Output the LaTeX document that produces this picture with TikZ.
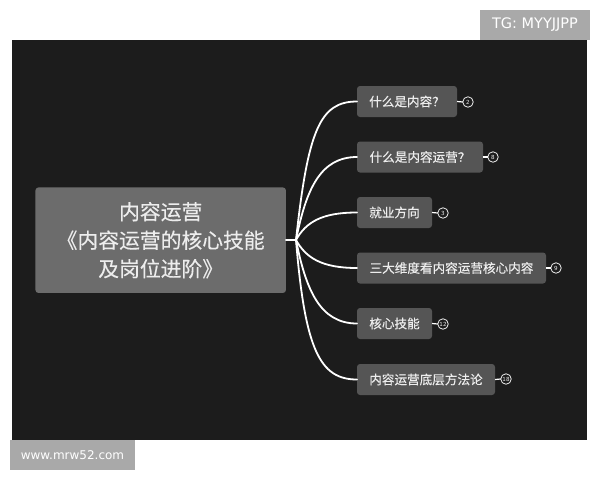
\documentclass[tikz,border=0pt]{standalone}
\usepackage{fontspec}
\setmainfont[FakeBold=0.3]{Noto Sans CJK SC}
\newfontfamily\latinfont{DejaVu Sans}
\definecolor{bgdark}{HTML}{1C1C1C}
\definecolor{rootfill}{HTML}{6C6C6C}
\definecolor{leaffill}{HTML}{555555}
\definecolor{tagfill}{HTML}{A9A9A9}
\definecolor{softwhite}{HTML}{EDEDED}
\tikzset{
  rootbox/.style={fill=rootfill,rounded corners=3pt,text=softwhite,align=center,inner sep=0pt,outer sep=0pt,
    minimum width=250.5pt,minimum height=105.5pt,font=\fontsize{20.8}{28.5}\selectfont},
  leafbox/.style={fill=leaffill,rounded corners=3pt,text=softwhite,anchor=west,inner sep=0pt,outer sep=0pt,
    minimum height=31pt,font=\fontsize{12.6}{15}\selectfont},
  badge/.style={circle,draw=softwhite,line width=0.8pt,fill=bgdark,text=softwhite,minimum size=10.5pt,inner sep=0pt,outer sep=0pt,
    font=\latinfont\fontsize{5.6}{6}\selectfont},
  branch/.style={draw=white,line width=1.8pt,line cap=round},
  tick/.style={draw=white,line width=1.2pt},
  tagbox/.style={fill=tagfill,text=white,inner sep=0pt,outer sep=0pt,font=\latinfont}
}
\begin{document}
\begin{tikzpicture}[x=1pt,y=-1pt]
\useasboundingbox (0,0) rectangle (600,480);
\fill[white] (0,0) rectangle (600,480);
\fill[bgdark] (12,40) rectangle (587,440);
\node[tagbox,minimum width=110pt,minimum height=30pt] (tg) at (535,25) {\fontsize{14.5}{16}\selectfont TG: MYYJJPP};
\node[tagbox,minimum width=125pt,minimum height=30pt] (www) at (72.5,455) {\fontsize{12}{14}\selectfont www.mrw52.com};
\node[rootbox] (root) at (160.7,240.2) {内容运营\\《内容运营的核心技能\\及岗位进阶》};
\node[leafbox,minimum width=100pt] (n1) at (357,101.5) {什么是内容？};
\node[leafbox,minimum width=126pt] (n2) at (357,157) {什么是内容运营？};
\node[leafbox,minimum width=75pt] (n3) at (357,212.5) {就业方向};
\node[leafbox,minimum width=189pt] (n4) at (357,268) {三大维度看内容运营核心内容};
\node[leafbox,minimum width=75pt] (n5) at (357,323.5) {核心技能};
\node[leafbox,minimum width=138pt] (n6) at (357,379.5) {内容运营底层方法论};
\node[badge] (b1) at (468,102) {2};
\node[badge] (b2) at (493,157) {8};
\node[badge] (b3) at (443,213) {3};
\node[badge] (b4) at (556,268) {9};
\node[badge] (b5) at (443,324) {12};
\node[badge] (b6) at (506,379) {18};
\coordinate (hub) at (296,240);
\draw[branch] (root.east |- hub) -- (hub);
\draw[branch] (hub) .. controls (308,130) and (320,101.5) .. (n1.west);
\draw[branch] (hub) .. controls (306,190) and (320,157) .. (n2.west);
\draw[branch] (hub) .. controls (306,222) and (322,212.5) .. (n3.west);
\draw[branch] (hub) .. controls (306,258) and (322,268) .. (n4.west);
\draw[branch] (hub) .. controls (306,290) and (320,323.5) .. (n5.west);
\draw[branch] (hub) .. controls (305,350) and (320,379.5) .. (n6.west);
\foreach \i in {1,...,6}{\draw[tick] (n\i.east) -- (b\i.west);}
\end{tikzpicture}
\end{document}
